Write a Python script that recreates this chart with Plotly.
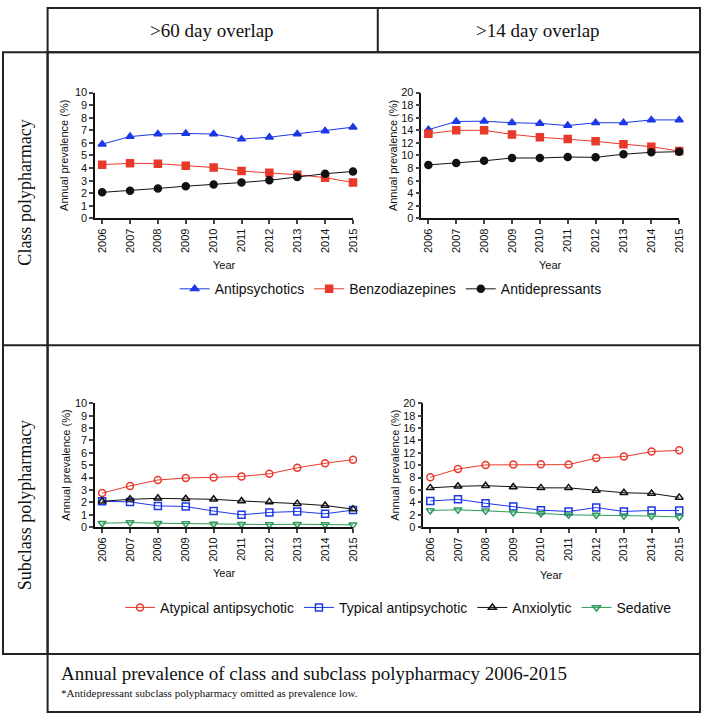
import plotly.graph_objects as go

# figure size (px) and helpers to place things in paper coords
W, H = 709, 722


def px(x):
    return x / W


def py(y):
    return 1 - y / H


years = [2006, 2007, 2008, 2009, 2010, 2011, 2012, 2013, 2014, 2015]
year_labels = [str(y) for y in years]

# Class polypharmacy, >60 day overlap
antipsychotics_60 = [5.9, 6.5, 6.7, 6.75, 6.7, 6.3, 6.45, 6.7, 6.95, 7.25]
benzodiazepines_60 = [4.27, 4.38, 4.35, 4.18, 4.04, 3.76, 3.63, 3.47, 3.24, 2.85]
antidepressants_60 = [2.07, 2.2, 2.38, 2.56, 2.69, 2.85, 3.03, 3.29, 3.55, 3.73]

# Class polypharmacy, >14 day overlap
antipsychotics_14 = [14.1, 15.4, 15.45, 15.2, 15.1, 14.75, 15.2, 15.2, 15.65, 15.65]
benzodiazepines_14 = [13.45, 14.0, 14.0, 13.35, 12.9, 12.6, 12.25, 11.8, 11.4, 10.7]
antidepressants_14 = [8.5, 8.8, 9.15, 9.6, 9.6, 9.75, 9.7, 10.2, 10.5, 10.6]

# Subclass polypharmacy, >60 day overlap
atypical_60 = [2.75, 3.33, 3.81, 3.97, 4.02, 4.1, 4.31, 4.79, 5.16, 5.45]
typical_60 = [2.09, 2.04, 1.72, 1.67, 1.3, 1.0, 1.19, 1.27, 1.08, 1.38]
anxiolytic_60 = [2.09, 2.25, 2.33, 2.3, 2.25, 2.12, 2.04, 1.9, 1.75, 1.46]
sedative_60 = [0.32, 0.37, 0.32, 0.29, 0.26, 0.24, 0.21, 0.24, 0.21, 0.19]

# Subclass polypharmacy, >14 day overlap
atypical_14 = [8.05, 9.4, 10.05, 10.1, 10.15, 10.1, 11.15, 11.4, 12.2, 12.4]
typical_14 = [4.23, 4.5, 3.86, 3.33, 2.75, 2.54, 3.17, 2.54, 2.7, 2.7]
anxiolytic_14 = [6.35, 6.6, 6.7, 6.5, 6.35, 6.35, 5.93, 5.56, 5.45, 4.81]
sedative_14 = [2.7, 2.8, 2.64, 2.38, 2.22, 2.0, 1.96, 1.85, 1.8, 1.64]

BLUE = "#1c38e6"
RED = "#e8392b"
BLACK = "#111111"
GREEN = "#2f9a5c"

fig = go.Figure()


def add_series(y, name, color, symbol, axis, legend, show):
    fig.add_trace(go.Scatter(
        x=years, y=y, name=name, mode="lines+markers",
        line=dict(color=color, width=1),
        marker=dict(color=color, symbol=symbol, size=7,
                    line=dict(color=color, width=1.5)),
        xaxis="x" + axis, yaxis="y" + axis,
        legend=legend, showlegend=show, cliponaxis=False,
    ))


# top row (filled markers)
for ax, show, data in [("", True, (antipsychotics_60, benzodiazepines_60, antidepressants_60)),
                       ("2", False, (antipsychotics_14, benzodiazepines_14, antidepressants_14))]:
    add_series(data[0], "Antipsychotics", BLUE, "triangle-up", ax, "legend", show)
    add_series(data[1], "Benzodiazepines", RED, "square", ax, "legend", show)
    add_series(data[2], "Antidepressants", BLACK, "circle", ax, "legend", show)

# bottom row (open markers)
for ax, show, data in [("3", True, (atypical_60, typical_60, anxiolytic_60, sedative_60)),
                       ("4", False, (atypical_14, typical_14, anxiolytic_14, sedative_14))]:
    add_series(data[0], "Atypical antipsychotic", RED, "circle-open", ax, "legend2", show)
    add_series(data[1], "Typical antipsychotic", BLUE, "square-open", ax, "legend2", show)
    add_series(data[2], "Anxiolytic", BLACK, "triangle-up-open", ax, "legend2", show)
    add_series(data[3], "Sedative", GREEN, "triangle-down-open", ax, "legend2", show)

tick_font = dict(family="Liberation Sans, Arial", size=11, color="#111")
xcommon = dict(range=[2005.75, 2015], tickvals=years, ticktext=year_labels,
               tickangle=-90, ticks="outside", ticklen=4, tickwidth=1.5,
               showline=True, linecolor="#111", linewidth=1.5, showgrid=False,
               zeroline=False, tickfont=tick_font, fixedrange=True)
ycommon = dict(ticks="outside", ticklen=4, tickwidth=1.5, showline=True,
               linecolor="#111", linewidth=1.5, showgrid=False, zeroline=False,
               tickfont=tick_font, fixedrange=True)

top = [py(216), py(88)]
bottom = [py(530), py(404)]
fig.update_layout(
    xaxis=dict(domain=[px(96), px(356)], anchor="y", **xcommon),
    yaxis=dict(domain=top, anchor="x", range=[0, 10], dtick=1, **ycommon),
    xaxis2=dict(domain=[px(425), px(685)], anchor="y2", **xcommon),
    yaxis2=dict(domain=top, anchor="x2", range=[0, 20], dtick=2, **ycommon),
    xaxis3=dict(domain=[px(96), px(356)], anchor="y3", **xcommon),
    yaxis3=dict(domain=bottom, anchor="x3", range=[0, 10], dtick=1, **ycommon),
    xaxis4=dict(domain=[px(427), px(685)], anchor="y4", **xcommon),
    yaxis4=dict(domain=bottom, anchor="x4", range=[0, 20], dtick=2, **ycommon),
)

legend_common = dict(orientation="h", xanchor="center", yanchor="middle",
                     font=dict(family="Liberation Sans, Arial", size=14, color="#111"),
                     bgcolor="rgba(0,0,0,0)", itemwidth=30)
fig.update_layout(
    legend=dict(x=px(394), y=py(288), **legend_common),
    legend2=dict(x=px(402), y=py(612), **legend_common),
)

# axis titles
sans = dict(family="Liberation Sans, Arial", size=11, color="#111")
annotations = []
for xc, yc in [(65, 152), (397, 152), (67, 467), (399, 467)]:
    annotations.append(dict(text="Annual prevalence (%)", x=px(xc), y=py(yc),
                            textangle=-90, font=sans))
for xc, yc in [(226, 263), (555, 263), (226, 577), (556, 579)]:
    annotations.append(dict(text="Year", x=px(xc), y=py(yc), font=sans))

# table text
serif = dict(family="Liberation Serif, Times New Roman", size=19, color="#111")
annotations += [
    dict(text=">60 day overlap", x=px(214), y=py(25), font=serif),
    dict(text=">14 day overlap", x=px(543), y=py(25), font=serif),
    dict(text="Class polypharmacy", x=px(25), y=py(190), textangle=-90, font=dict(serif, size=18)),
    dict(text="Subclass polypharmacy", x=px(25), y=py(508), textangle=-90, font=dict(serif, size=18)),
    dict(text="Annual prevalence of class and subclass polypharmacy 2006-2015",
         x=px(59), y=py(679), xanchor="left", font=serif),
    dict(text="*Antidepressant subclass polypharmacy omitted as prevalence low.",
         x=px(59), y=py(699), xanchor="left", font=dict(serif, size=11)),
]
for a in annotations:
    a.setdefault("xanchor", "center")
    a.update(xref="paper", yref="paper", yanchor="middle", showarrow=False)
fig.update_layout(annotations=annotations)

# table borders
box = dict(color="#222", width=2)
shapes = [
    dict(type="rect", x0=px(48), x1=px(706), y0=py(47), y1=py(2)),
    dict(type="line", x0=px(381), x1=px(381), y0=py(47), y1=py(2)),
    dict(type="rect", x0=px(3), x1=px(48), y0=py(659), y1=py(47)),
    dict(type="rect", x0=px(48), x1=px(706), y0=py(659), y1=py(47)),
    dict(type="line", x0=px(3), x1=px(706), y0=py(345), y1=py(345)),
    dict(type="rect", x0=px(48), x1=px(706), y0=py(718), y1=py(659)),
]
for s in shapes:
    s.update(xref="paper", yref="paper", line=box)
fig.update_layout(shapes=shapes)

fig.update_layout(
    width=W, height=H,
    margin=dict(l=0, r=0, t=0, b=0),
    paper_bgcolor="white", plot_bgcolor="white",
    font=dict(family="Liberation Sans, Arial", color="#111"),
)

# page body has a default margin; drop it so the figure fills the window
fig.write_html("out.html", config={"displayModeBar": False},
               post_script="document.body.style.margin='0px';")
